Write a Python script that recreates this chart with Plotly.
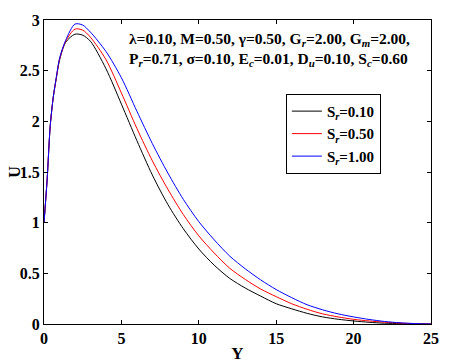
import plotly.graph_objects as go

# Y-Werte (Abszisse)
y_punkte = [0, 0.2, 0.4, 0.6, 0.8, 1.0, 1.4, 2.0, 2.5, 3, 4, 5, 6, 7, 8, 9, 10,
            11, 12, 13, 14, 15, 16, 17, 18, 19, 20, 21, 22, 23, 24, 25]

# Geschwindigkeit U fuer verschiedene S_r
u_sr_010 = [1.0, 1.42, 1.95, 2.24, 2.43, 2.60, 2.78, 2.86, 2.85, 2.79, 2.52, 2.17,
            1.81, 1.47, 1.18, 0.94, 0.74, 0.58, 0.45, 0.355, 0.275, 0.20, 0.15, 0.105,
            0.07, 0.047, 0.03, 0.017, 0.008, 0.004, 0.001, 0.0]
u_sr_050 = [1.0, 1.42, 1.95, 2.24, 2.43, 2.61, 2.79, 2.91, 2.90, 2.83, 2.61, 2.28,
            1.93, 1.61, 1.33, 1.08, 0.87, 0.70, 0.55, 0.44, 0.345, 0.27, 0.20, 0.145,
            0.10, 0.07, 0.046, 0.03, 0.018, 0.009, 0.003, 0.0]
u_sr_100 = [1.0, 1.42, 1.95, 2.24, 2.44, 2.62, 2.80, 2.96, 2.95, 2.88, 2.69, 2.43,
            2.10, 1.78, 1.49, 1.23, 1.01, 0.83, 0.67, 0.545, 0.435, 0.34, 0.26, 0.19,
            0.14, 0.10, 0.07, 0.045, 0.025, 0.012, 0.004, 0.0]

kurven = [
    ("S<sub><i>r</i></sub>=0.10", u_sr_010, "black"),
    ("S<sub><i>r</i></sub>=0.50", u_sr_050, "red"),
    ("S<sub><i>r</i></sub>=1.00", u_sr_100, "blue"),
]

x_ticks = [0, 5, 10, 15, 20, 25]
y_ticks = [0, 0.5, 1, 1.5, 2, 2.5, 3]
y_tick_labels = ["0", "0.5", "1", "1.5", "2", "2.5", "3"]

parameter_text = (
    "λ=0.10, M=0.50, γ=0.50, G<sub><i>r</i></sub>=2.00, G<sub><i>m</i></sub>=2.00,<br>"
    "P<sub><i>r</i></sub>=0.71, σ=0.10, E<sub><i>c</i></sub>=0.01, "
    "D<sub><i>u</i></sub>=0.10, S<sub><i>c</i></sub>=0.60"
)

SCHRIFT = "Liberation Serif"

fig = go.Figure()
for name, werte, farbe in kurven:
    fig.add_trace(
        go.Scatter(
            x=y_punkte,
            y=werte,
            name=name,
            mode="lines",
            line=dict(color=farbe, width=1, shape="spline", smoothing=0.8),
        )
    )

achse = dict(
    showline=True,
    linecolor="black",
    linewidth=1,
    mirror="ticks",
    ticks="inside",
    ticklen=4,
    tickcolor="black",
    showgrid=False,
    zeroline=False,
    automargin=False,
    tickfont=dict(family=SCHRIFT, size=16, color="black", weight="bold"),
)

fig.update_xaxes(
    **achse,
    range=[0, 25],
    tickvals=x_ticks,
    title=dict(text="Y", font=dict(family=SCHRIFT, size=17, color="black", weight="bold"),
               standoff=0),
)
fig.update_yaxes(
    **achse,
    range=[0, 3],
    tickvals=y_ticks,
    ticktext=y_tick_labels,
)

# Achsentitel U links neben den Ticklabels
fig.add_annotation(
    x=-0.078,
    y=0.5,
    xref="paper",
    yref="paper",
    xanchor="center",
    yanchor="middle",
    textangle=-90,
    showarrow=False,
    borderpad=0,
    text="U",
    font=dict(family=SCHRIFT, size=16, color="black", weight="bold"),
)

fig.add_annotation(
    x=0.215,
    y=0.975,
    xref="paper",
    yref="paper",
    xanchor="left",
    yanchor="top",
    align="left",
    showarrow=False,
    text=parameter_text,
    font=dict(family=SCHRIFT, size=15.5, color="black", weight="bold"),
)

# Seite hat 8px Rand, daher etwas kleiner
fig.update_layout(
    width=451,
    height=356,
    margin=dict(l=36, r=28, t=12, b=40),
    paper_bgcolor="white",
    plot_bgcolor="white",
    showlegend=True,
    legend=dict(
        x=0.625,
        y=0.757,
        xanchor="left",
        yanchor="top",
        bordercolor="black",
        borderwidth=1,
        bgcolor="white",
        font=dict(family=SCHRIFT, size=15, color="black", weight="bold"),
        itemwidth=30,
        tracegroupgap=0,
    ),
)

fig.write_html("out.html")
